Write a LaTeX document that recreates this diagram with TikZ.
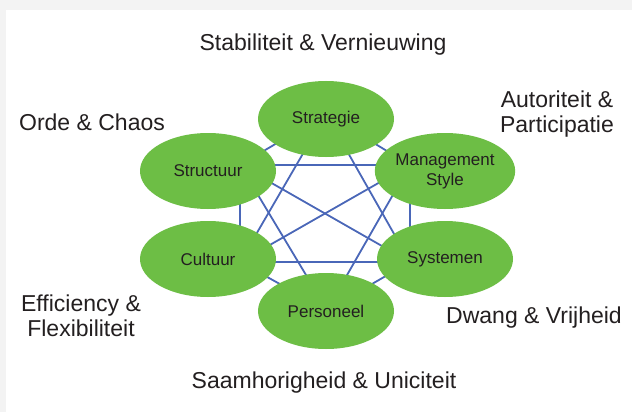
\documentclass[tikz,border=0pt]{standalone}
\usepackage{fontspec}
\setmainfont{Liberation Sans}
\usetikzlibrary{positioning, calc, backgrounds, shapes.geometric}
\definecolor{SSGreen}{HTML}{6DBE45}
\definecolor{SSBlue}{HTML}{4A67B8}
\definecolor{SSText}{HTML}{231F20}
\definecolor{SSPage}{HTML}{F3F3F3}

\begin{document}
\begin{tikzpicture}[
    % 全局设置:1 单位 = 1pt,y 轴向下
    x=1pt, y=-1pt,
    font=\fontsize{17}{20}\selectfont,
    % 样式定义
    blob/.style={
        ellipse,
        fill=SSGreen,
        draw=none,
        minimum width=136pt, % 椭圆尺寸
        minimum height=76pt,
        inner sep=0pt,
        text=SSText,
        align=center
    },
    link/.style={draw=SSBlue, line width=1.8pt},
    pairtext/.style={font=\fontsize{23}{25}\selectfont, text=SSText, align=center, inner sep=0pt}
]
    \useasboundingbox (0,0) rectangle (632,412);

    % ====== 1. 六个要素 (椭圆) ======
    \node[blob] (strategie)  at (326,119) {Strategie};
    \node[blob] (structuur)  at (208,171) {Structuur};
    \node[blob] (management) at (445,171) {Management\\Style};
    \node[blob] (cultuur)    at (208,259) {Cultuur};
    \node[blob] (systemen)   at (445,259) {Systemen};
    \node[blob] (personeel)  at (326,311) {Personeel};

    % 连线的汇合点 (藏在椭圆后面)
    \coordinate (strategie-hub)  at ([yshift=5pt]strategie.center);
    \coordinate (structuur-hub)  at ([xshift=32pt, yshift=6pt]structuur.center);
    \coordinate (management-hub) at ([xshift=-35pt, yshift=6pt]management.center);
    \coordinate (cultuur-hub)    at ([xshift=32pt, yshift=-3pt]cultuur.center);
    \coordinate (systemen-hub)   at ([xshift=-35pt, yshift=-3pt]systemen.center);
    \coordinate (personeel-hub)  at ([xshift=1pt, yshift=1pt]personeel.center);

    % ====== 2. 背景与连线 ======
    \begin{scope}[on background layer]
        \fill[SSPage] (0,0) rectangle (632,412);
        \fill[white] (6,10) rectangle (632,412);

        % 外圈
        \draw[link] (strategie-hub) -- (management-hub);
        \draw[link] (management-hub) -- (systemen-hub);
        \draw[link] (systemen-hub) -- (personeel-hub);
        \draw[link] (personeel-hub) -- (cultuur-hub);
        \draw[link] (cultuur-hub) -- (structuur-hub);
        \draw[link] (structuur-hub) -- (strategie-hub);
        % 隔一个相连
        \draw[link] (strategie-hub) -- (systemen-hub);
        \draw[link] (strategie-hub) -- (cultuur-hub);
        \draw[link] (structuur-hub) -- (management-hub);
        \draw[link] (cultuur-hub) -- (systemen-hub);
        \draw[link] (structuur-hub) -- (personeel-hub);
        \draw[link] (management-hub) -- (personeel-hub);
        % 对角线
        \draw[link] (structuur-hub) -- (systemen-hub);
        \draw[link] (cultuur-hub) -- (management-hub);
    \end{scope}

    % ====== 3. 对立的价值 (外围文字) ======
    \node[pairtext] (stabiliteit) at (323,45)  {Stabiliteit \& Vernieuwing};
    \node[pairtext] (orde)        at (92,122)  {Orde \& Chaos};
    \node[pairtext] (autoriteit)  at (557,114) {Autoriteit \&\\Participatie};
    \node[pairtext] (efficiency)  at (81,316)  {Efficiency \&\\Flexibiliteit};
    \node[pairtext] (dwang)       at (534,318) {Dwang \& Vrijheid};
    \node[pairtext] (saamhorig)   at (324,383) {Saamhorigheid \& Uniciteit};

\end{tikzpicture}
\end{document}
